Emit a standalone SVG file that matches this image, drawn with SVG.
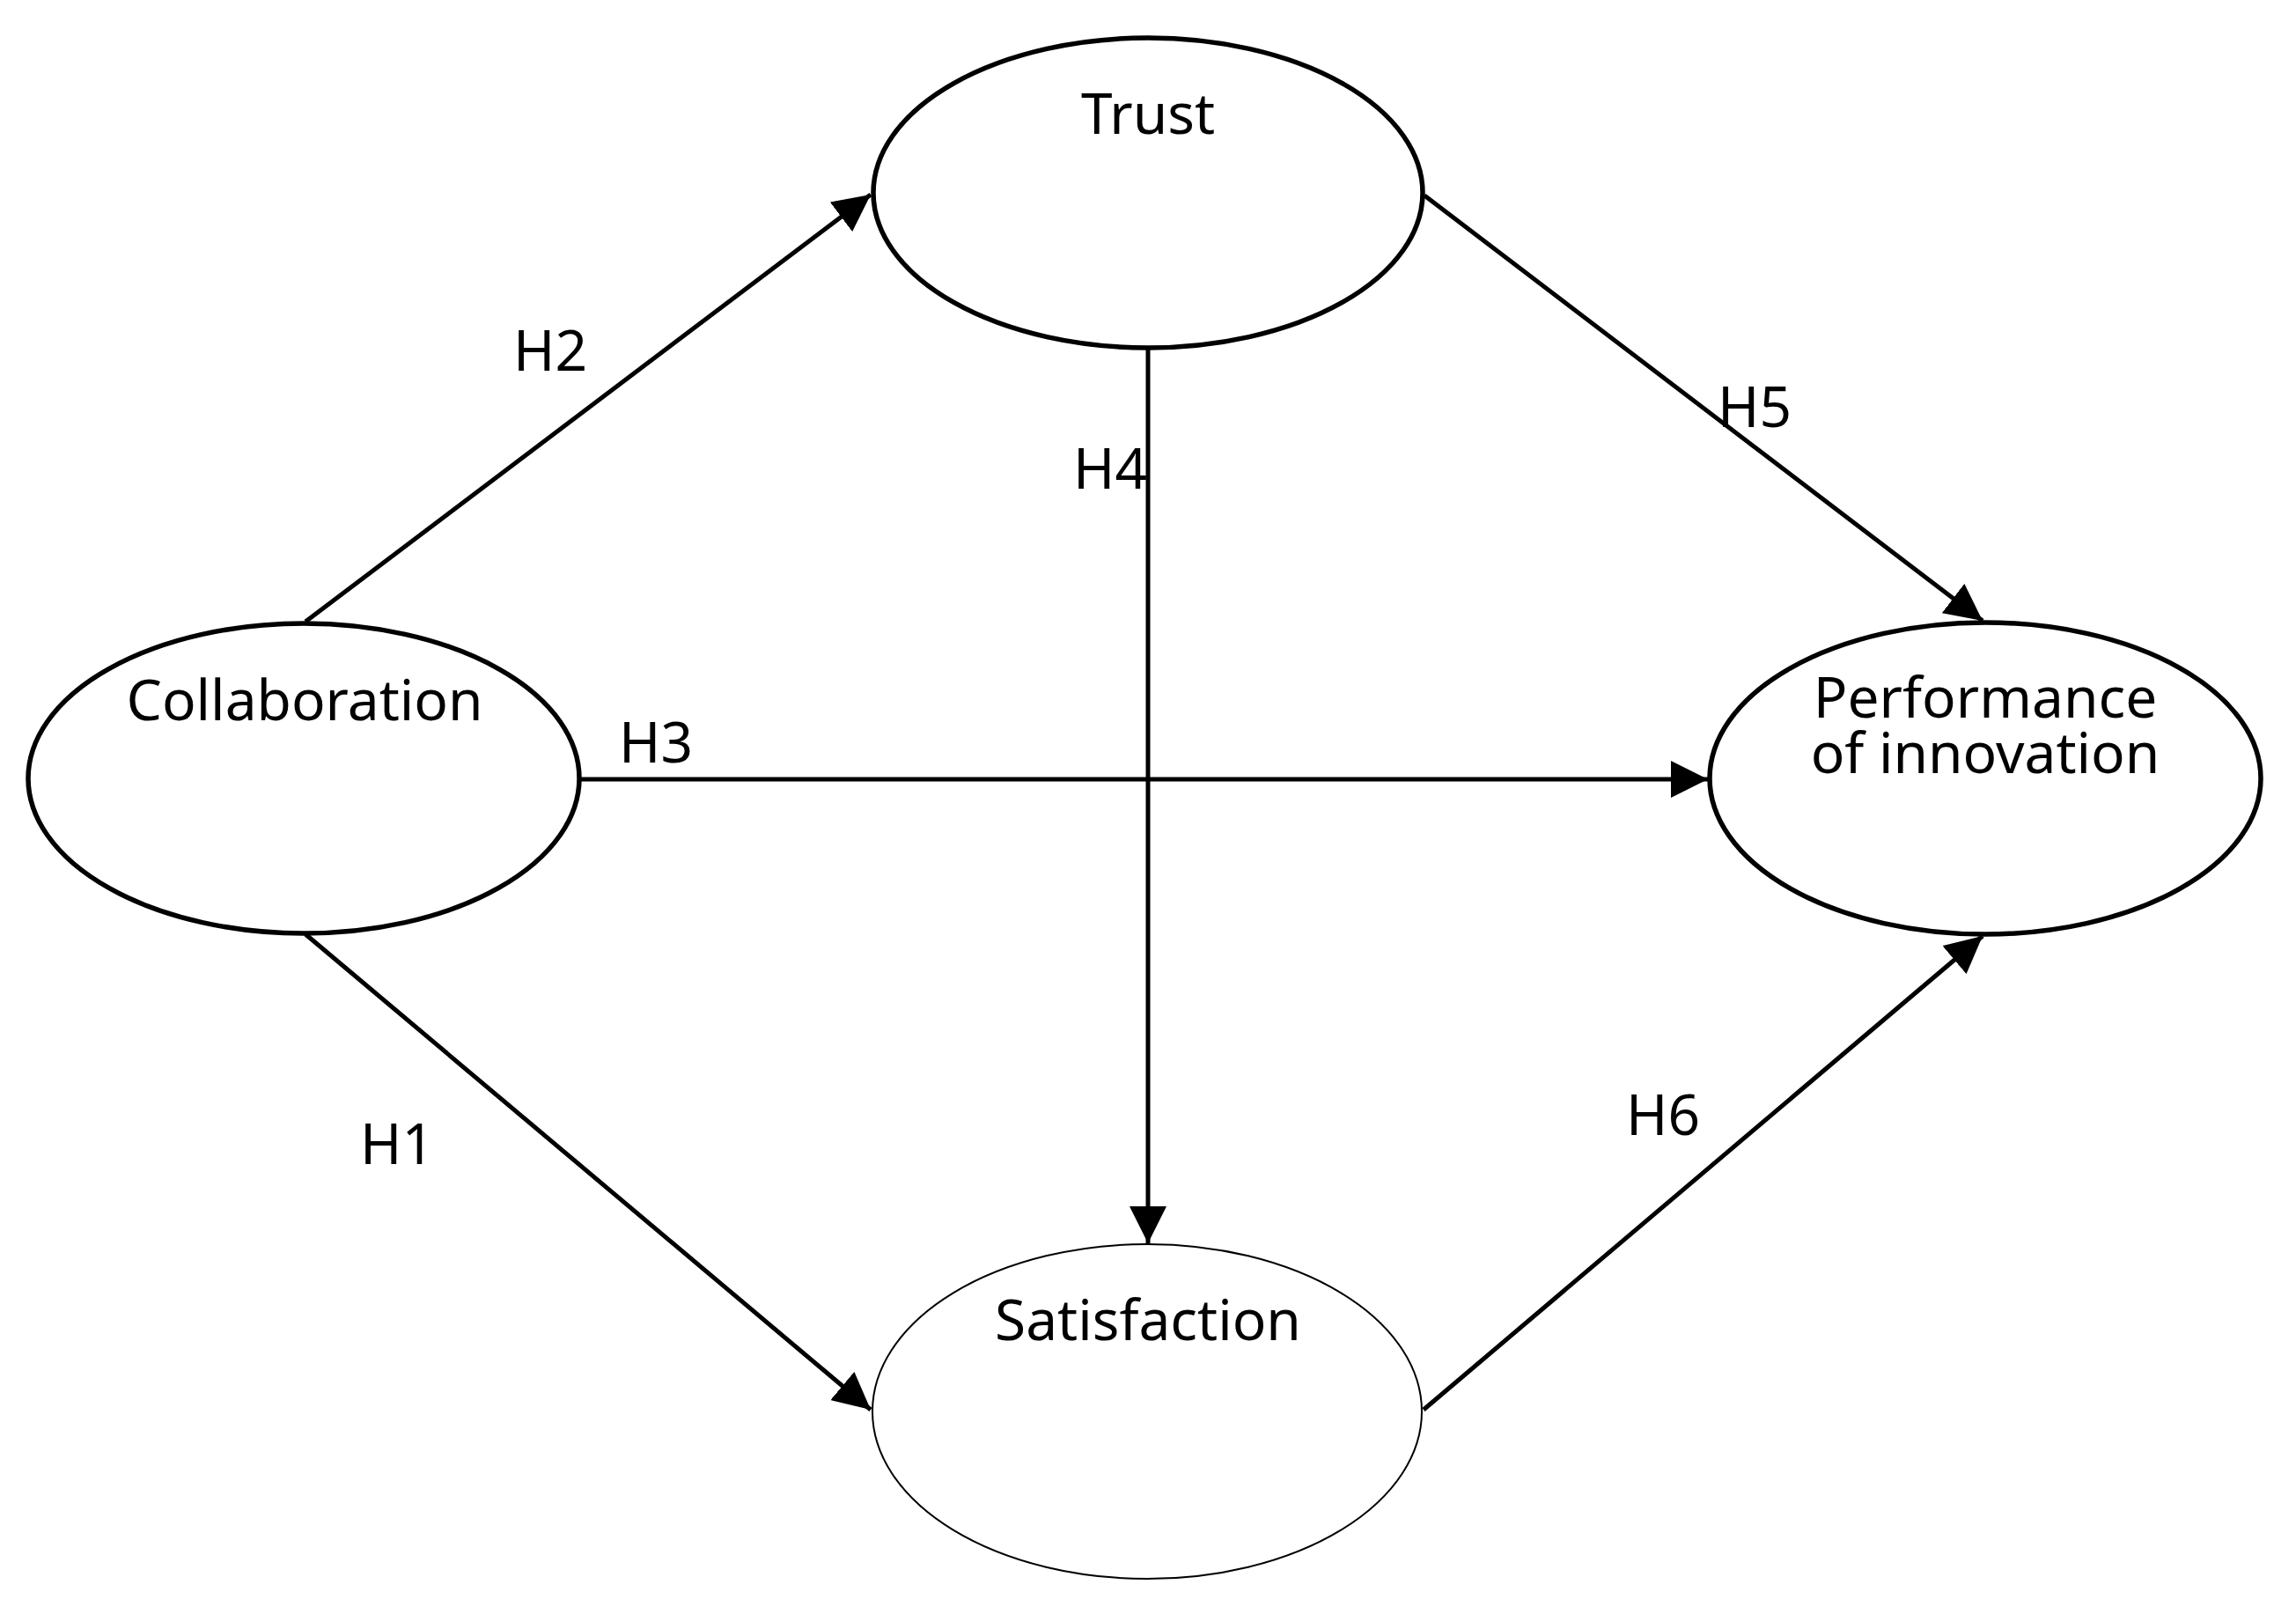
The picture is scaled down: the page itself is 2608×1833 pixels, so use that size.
<svg xmlns="http://www.w3.org/2000/svg" width="2608" height="1833" viewBox="0 0 2608 1833">
  <style>
    .node { fill: #ffffff; stroke: #000000; stroke-width: 5.5; }
    .thin { stroke-width: 2; }
    .label { font-family: "Noto Sans", "Open Sans", "Liberation Sans", sans-serif; font-size: 64px; fill: #000000; text-anchor: middle; }
    .edge { stroke: #000000; stroke-width: 5; fill: none; marker-end: url(#arrow); }
  </style>
  <defs>
    <marker id="arrow" markerUnits="userSpaceOnUse" markerWidth="42" markerHeight="42" refX="42" refY="21" orient="auto" viewBox="0 0 42 42">
      <path d="M0,0 L42,21 L0,42 Z" fill="#000000"/>
    </marker>
  </defs>
  <rect x="0" y="0" width="2608" height="1833" fill="#ffffff"/>

  <g id="connectors">
    <line class="edge" x1="347" y1="706" x2="989" y2="221"/>
    <line class="edge" x1="347" y1="1061" x2="989" y2="1601"/>
    <line class="edge" x1="659" y1="885" x2="1940" y2="885"/>
    <line class="edge" x1="1304" y1="396" x2="1304" y2="1412"/>
    <line class="edge" x1="1618" y1="222" x2="2252" y2="705"/>
    <line class="edge" x1="1617" y1="1601" x2="2252" y2="1063"/>
    <text class="label" x="625" y="421">H2</text>
    <text class="label" x="451" y="1322">H1</text>
    <text class="label" x="745" y="866">H3</text>
    <text class="label" x="1261" y="555">H4</text>
    <text class="label" x="1993" y="485">H5</text>
    <text class="label" x="1889" y="1289">H6</text>
  </g>

  <g id="node-trust">
    <ellipse class="node" cx="1304" cy="219" rx="312" ry="176"/>
    <text class="label" x="1304" y="152">Trust</text>
  </g>
  <g id="node-collaboration">
    <ellipse class="node" cx="345" cy="884" rx="313" ry="176"/>
    <text class="label" x="346" y="818">Collaboration</text>
  </g>
  <g id="node-performance">
    <ellipse class="node" cx="2255" cy="884" rx="313" ry="177"/>
    <text class="label" x="2255" y="815">Performance</text>
    <text class="label" x="2255" y="878">of innovation</text>
  </g>
  <g id="node-satisfaction">
    <ellipse class="node thin" cx="1303" cy="1603" rx="312" ry="190"/>
    <text class="label" x="1304" y="1522">Satisfaction</text>
  </g>
</svg>
